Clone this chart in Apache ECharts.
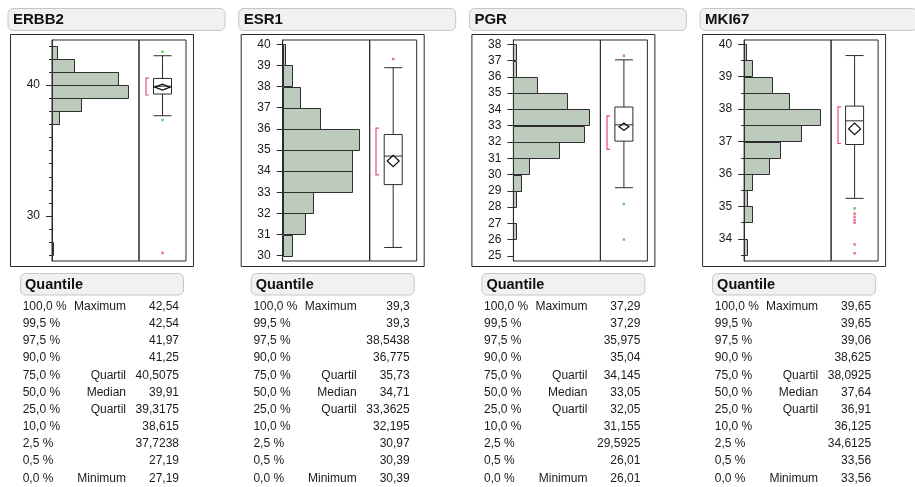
<!DOCTYPE html>
<html>
<head>
<meta charset="utf-8">
<script src="https://cdn.jsdelivr.net/npm/echarts@6/dist/echarts.min.js"></script>
<style>
  html, body { margin: 0; padding: 0; background: #fff; }
  #chart { width: 915px; height: 487px; }
</style>
</head>
<body>
<div id="chart"></div>
<script>
// ---- Distribution data per gene ----
const genes = ['ERBB2', 'ESR1', 'PGR', 'MKI67'];

// Histogram bins: lower edges, bin width and counts
const erbb2BinLo = [27, 37, 38, 39, 40, 41, 42];
const erbb2Counts = [1, 5, 22, 58, 50, 17, 4];
const esr1BinLo = [30, 31, 32, 33, 34, 35, 36, 37, 38, 39];
const esr1Counts = [4, 10, 14, 32, 32, 35, 17, 8, 4, 1];
const pgrBinLo = [26, 27, 28, 29, 30, 31, 32, 33, 34, 35, 36, 37];
const pgrCounts = [1, 0, 1, 3, 6, 17, 26, 28, 20, 9, 1, 1];
const mki67BinLo = [33.5, 34, 34.5, 35, 35.5, 36, 36.5, 37, 37.5, 38, 38.5, 39, 39.5];
const mki67Counts = [2, 0, 5, 2, 5, 16, 23, 37, 49, 29, 18, 5, 1];
const binWidths = [1, 1, 1, 0.5];

// Quantile table
const quantilePct = ['100,0 %', '99,5 %', '97,5 %', '90,0 %', '75,0 %', '50,0 %', '25,0 %', '10,0 %', '2,5 %', '0,5 %', '0,0 %'];
const quantileName = ['Maximum', '', '', '', 'Quartil', 'Median', 'Quartil', '', '', '', 'Minimum'];
const erbb2Quantiles = [42.54, 42.54, 41.97, 41.25, 40.5075, 39.91, 39.3175, 38.615, 37.7238, 27.19, 27.19];
const esr1Quantiles = [39.3, 39.3, 38.5438, 36.775, 35.73, 34.71, 33.3625, 32.195, 30.97, 30.39, 30.39];
const pgrQuantiles = [37.29, 37.29, 35.975, 35.04, 34.145, 33.05, 32.05, 31.155, 29.5925, 26.01, 26.01];
const mki67Quantiles = [39.65, 39.65, 39.06, 38.625, 38.0925, 37.64, 36.91, 36.125, 34.6125, 33.56, 33.56];

// Whisker ends [low, high]
const erbb2Whiskers = [37.66, 42.24];
const esr1Whiskers = [30.39, 38.89];
const pgrWhiskers = [29.19, 37.04];
const mki67Whiskers = [35.25, 39.65];

// Mean and half-width of its confidence interval
const erbb2Mean = [39.84, 0.23];
const esr1Mean = [34.48, 0.27];
const pgrMean = [32.94, 0.22];
const mki67Mean = [37.39, 0.18];

// Shortest half [low, high]
const erbb2Shortest = [39.24, 40.53];
const esr1Shortest = [33.82, 36.03];
const pgrShortest = [31.55, 33.60];
const mki67Shortest = [36.94, 38.07];

// Points beyond the whiskers: value and marker state ('g' / 'r')
const erbb2Outliers = [42.54, 37.33, 27.19];
const erbb2OutlierState = ['g', 'g', 'r'];
const esr1Outliers = [39.3];
const esr1OutlierState = ['r'];
const pgrOutliers = [37.29, 28.19, 26.01];
const pgrOutlierState = ['r', 'g', 'g'];
const mki67Outliers = [34.94, 34.78, 34.68, 34.58, 34.5, 33.83, 33.56];
const mki67OutlierState = ['g', 'r', 'r', 'r', 'r', 'r', 'r'];

// Axis ranges and tick values
const erbb2Range = [26.57, 43.44];
const esr1Range = [29.75, 40.2];
const pgrRange = [24.69, 38.26];
const mki67Range = [33.32, 40.13];
const erbb2Labels = [30, 40];
const erbb2Minor = [27, 28, 29, 31, 32, 33, 34, 35, 36, 37, 38, 39, 41, 42, 43];
const esr1Labels = [30, 31, 32, 33, 34, 35, 36, 37, 38, 39, 40];
const esr1Minor = [];
const pgrLabels = [25, 26, 27, 28, 29, 30, 31, 32, 33, 34, 35, 36, 37, 38];
const pgrMinor = [];
const mki67Labels = [34, 35, 36, 37, 38, 39, 40];
const mki67Minor = [33.5, 34.5, 35.5, 36.5, 37.5, 38.5, 39.5];

const geneData = [
  { binLo: erbb2BinLo, counts: erbb2Counts, q: erbb2Quantiles, wh: erbb2Whiskers, mean: erbb2Mean, sh: erbb2Shortest, out: erbb2Outliers, outState: erbb2OutlierState, range: erbb2Range, labels: erbb2Labels, minor: erbb2Minor },
  { binLo: esr1BinLo, counts: esr1Counts, q: esr1Quantiles, wh: esr1Whiskers, mean: esr1Mean, sh: esr1Shortest, out: esr1Outliers, outState: esr1OutlierState, range: esr1Range, labels: esr1Labels, minor: esr1Minor },
  { binLo: pgrBinLo, counts: pgrCounts, q: pgrQuantiles, wh: pgrWhiskers, mean: pgrMean, sh: pgrShortest, out: pgrOutliers, outState: pgrOutlierState, range: pgrRange, labels: pgrLabels, minor: pgrMinor },
  { binLo: mki67BinLo, counts: mki67Counts, q: mki67Quantiles, wh: mki67Whiskers, mean: mki67Mean, sh: mki67Shortest, out: mki67Outliers, outState: mki67OutlierState, range: mki67Range, labels: mki67Labels, minor: mki67Minor }
];

// ---- Layout & styling ----
const FONT = '"Liberation Sans", Arial, Helvetica, sans-serif';
const PANEL_DX = 230.7;
const PLOT_TOP = 40, PLOT_H = 221;
const HIST_W = 87, BOX_W = 47;
const diamondWidths = [15, 12, 10, 12];
const stateColor = { g: '#3cc24a', r: '#e8506e' };
const LINE = '#2b2b2b';

const fmt = v => String(v).replace('.', ',');

const option = {
  animation: false,
  textStyle: { fontFamily: FONT },
  grid: [], xAxis: [], yAxis: [], series: [], graphic: []
};

genes.forEach((gene, i) => {
  const d = geneData[i];
  const x0 = 10 + i * PANEL_DX;
  const maxCount = Math.max.apply(null, d.counts);
  const bw = binWidths[i];

  // panel header
  option.graphic.push({
    type: 'rect', shape: { x: x0 - 2, y: 8.5, width: 217, height: 22, r: 5 },
    style: { fill: '#f1f1f1', stroke: '#c6c6c6', lineWidth: 1 }, z: 0
  });
  option.graphic.push({
    type: 'text', x: x0 + 3, y: 20,
    style: { text: gene, font: 'bold 15px ' + FONT, fill: '#111', align: 'left', verticalAlign: 'middle' }
  });
  // outer frame
  option.graphic.push({
    type: 'rect', shape: { x: x0 + 0.5, y: 34.5, width: 183, height: 232 },
    style: { fill: 'none', stroke: LINE, lineWidth: 1 }, z: 0
  });
  // quantile header
  option.graphic.push({
    type: 'rect', shape: { x: x0 + 10.5, y: 273.5, width: 163, height: 21.5, r: 5 },
    style: { fill: '#f1f1f1', stroke: '#c6c6c6', lineWidth: 1 }
  });
  option.graphic.push({
    type: 'text', x: x0 + 15, y: 284.5,
    style: { text: 'Quantile', font: 'bold 14.5px ' + FONT, fill: '#111', align: 'left', verticalAlign: 'middle' }
  });
  // quantile rows
  quantilePct.forEach((p, r) => {
    const y = 306.7 + r * 17.16;
    option.graphic.push({ type: 'text', x: x0 + 12.7, y: y,
      style: { text: p, font: '12px ' + FONT, fill: '#1a1a1a', align: 'left', verticalAlign: 'middle' } });
    if (quantileName[r]) {
      option.graphic.push({ type: 'text', x: x0 + 116, y: y,
        style: { text: quantileName[r], font: '12px ' + FONT, fill: '#1a1a1a', align: 'right', verticalAlign: 'middle' } });
    }
    option.graphic.push({ type: 'text', x: x0 + 169, y: y,
      style: { text: fmt(d.q[r]), font: '12px ' + FONT, fill: '#1a1a1a', align: 'right', verticalAlign: 'middle' } });
  });

  // grids: histogram and box plot
  option.grid.push({ left: x0 + 42, top: PLOT_TOP, width: HIST_W, height: PLOT_H, show: true, borderColor: LINE, borderWidth: 1, backgroundColor: 'transparent' });
  option.grid.push({ left: x0 + 42 + HIST_W, top: PLOT_TOP, width: BOX_W, height: PLOT_H, show: true, borderColor: LINE, borderWidth: 1, backgroundColor: 'transparent' });

  option.xAxis.push({ gridIndex: 2 * i, type: 'value', min: 0, max: maxCount * 1.145, show: false });
  option.xAxis.push({ gridIndex: 2 * i + 1, type: 'category', data: [gene], show: false });

  option.yAxis.push({
    gridIndex: 2 * i, type: 'value', min: d.range[0], max: d.range[1], position: 'left',
    axisLine: { show: true, lineStyle: { color: LINE, width: 1 } },
    axisTick: { show: true, length: 6, customValues: d.labels, lineStyle: { color: LINE, width: 1 } },
    axisLabel: { customValues: d.labels, fontSize: 12, color: '#1a1a1a', margin: 12, fontFamily: FONT },
    splitLine: { show: false }
  });
  option.yAxis.push({ gridIndex: 2 * i + 1, type: 'value', min: d.range[0], max: d.range[1], show: false });
  option.yAxis.push({
    gridIndex: 2 * i, type: 'value', min: d.range[0], max: d.range[1], position: 'left', offset: 0,
    axisLine: { show: false },
    axisTick: { show: d.minor.length > 0, length: 3, customValues: d.minor, lineStyle: { color: LINE, width: 1 } },
    axisLabel: { show: false }, splitLine: { show: false }
  });

  // histogram bars
  const binData = [];
  d.binLo.forEach((lo, k) => { if (d.counts[k] > 0) binData.push([lo, lo + bw, d.counts[k]]); });
  option.series.push({
    type: 'custom', xAxisIndex: 2 * i, yAxisIndex: 3 * i, silent: true,
    data: binData, encode: { x: 2, y: [0, 1] },
    renderItem: (params, api) => {
      const a = api.coord([0, api.value(1)]);
      const b = api.coord([api.value(2), api.value(0)]);
      return {
        type: 'rect',
        shape: { x: Math.round(a[0]) + 0.5, y: Math.round(a[1]) + 0.5, width: Math.round(b[0] - a[0]), height: Math.round(b[1] - a[1]) },
        style: { fill: '#bccbbb', stroke: '#2e2e2e', lineWidth: 1 }
      };
    }
  });

  // box plot from quantiles (q1 = 25 %, median = 50 %, q3 = 75 %)
  option.series.push({
    type: 'boxplot', xAxisIndex: 2 * i + 1, yAxisIndex: 3 * i + 1, silent: true,
    boxWidth: [18, 18],
    data: [[d.wh[0], d.q[6], d.q[5], d.q[4], d.wh[1]]],
    itemStyle: { color: '#fff', borderColor: LINE, borderWidth: 1 }
  });

  // means diamond
  const dw = diamondWidths[i];
  option.series.push({
    type: 'custom', xAxisIndex: 2 * i + 1, yAxisIndex: 3 * i + 1, silent: true, z: 5,
    data: [[0, d.mean[0], d.mean[1]]], encode: { x: 0, y: 1 },
    renderItem: (params, api) => {
      const c = api.coord([0, api.value(1)]);
      const t = api.coord([0, api.value(1) + api.value(2)]);
      const b = api.coord([0, api.value(1) - api.value(2)]);
      return {
        type: 'polygon',
        shape: { points: [[c[0] - dw / 2, c[1]], [c[0], t[1]], [c[0] + dw / 2, c[1]], [c[0], b[1]]] },
        style: { fill: 'none', stroke: '#111', lineWidth: 1.2 }
      };
    }
  });

  // shortest half bracket
  option.series.push({
    type: 'custom', xAxisIndex: 2 * i + 1, yAxisIndex: 3 * i + 1, silent: true, z: 5,
    data: [[0, d.sh[0], d.sh[1]]], encode: { x: 0, y: [1, 2] },
    renderItem: (params, api) => {
      const lo = api.coord([0, api.value(1)]);
      const hi = api.coord([0, api.value(2)]);
      const x = Math.round(lo[0]) - 17;
      return {
        type: 'polyline',
        shape: { points: [[x + 3, hi[1]], [x, hi[1]], [x, lo[1]], [x + 3, lo[1]]] },
        style: { fill: 'none', stroke: '#e8506e', lineWidth: 1.2 }
      };
    }
  });

  // outlying points
  option.series.push({
    type: 'scatter', xAxisIndex: 2 * i + 1, yAxisIndex: 3 * i + 1, silent: true, z: 6,
    symbol: 'rect', symbolSize: 2.5,
    data: d.out.map((v, k) => ({ value: [0, v], itemStyle: { color: stateColor[d.outState[k]] } }))
  });
});

const chart = echarts.init(document.getElementById('chart'), null, { renderer: 'canvas' });
chart.setOption(option);
</script>
</body>
</html>
